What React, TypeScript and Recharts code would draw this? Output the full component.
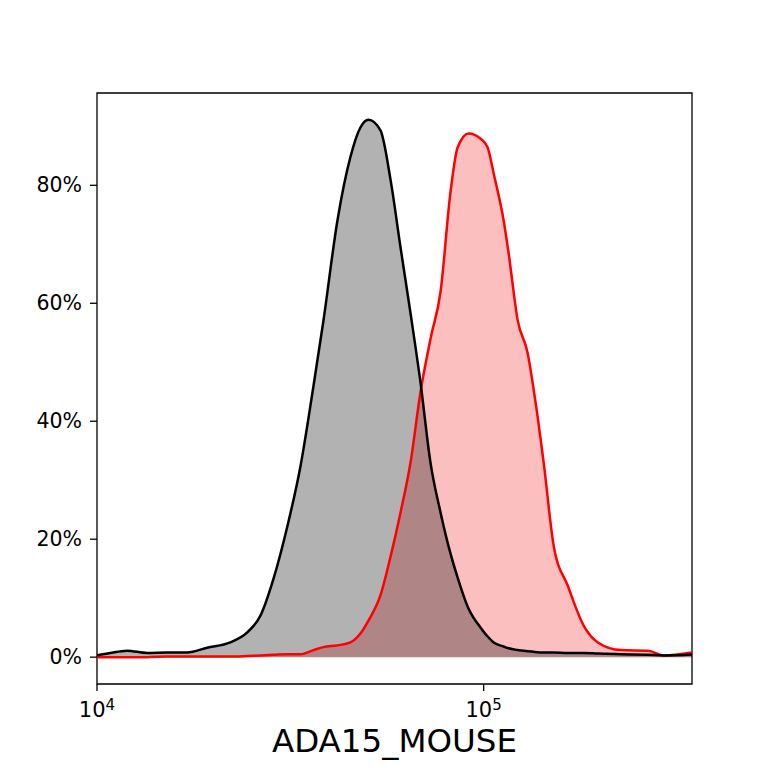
import React from "react";
import {
  ComposedChart,
  Area,
  Line,
  XAxis,
  YAxis,
  ReferenceArea,
  Label,
} from "recharts";

// Fluorescence intensity (x) and % of max (y)
const intensity = [
  10000, 10806, 11959, 13476, 15183, 17109, 19277, 22111, 24466, 26445,
  28577, 31075, 33576, 36282, 38507, 41855, 45228, 48005, 50357, 54096,
  57418, 60950, 64698, 68677, 72897, 77381, 82139, 85641, 91445, 98227,
  102410, 106150, 112680, 116090, 122490, 130020, 134760, 143030, 151830,
  165060, 181570, 197380, 226390, 266020, 292620, 345840,
];

// isotype control (black / grey)
const controlPct = [
  0.3, 0.7, 1.1, 0.7, 0.8, 0.8, 1.6, 2.5, 4.2, 7.0,
  13.2, 22.2, 32.3, 45.9, 57, 74, 84.8, 89.8, 91.1, 89.3,
  81, 69.5, 58.3, 46.5, 32.9, 24.5, 17.5, 13.5, 8.2, 5,
  3.5, 2.5, 1.8, 1.5, 1.2, 1.0, 0.9, 0.8, 0.8,
  0.7, 0.7, 0.6, 0.5, 0.4, 0.3, 0.45,
];

// ADA15 stained sample (red)
const samplePct = [
  0, 0, 0, 0, 0.1, 0.1, 0.1, 0.1, 0.2, 0.3,
  0.4, 0.5, 0.5, 1.2, 1.7, 2.0, 2.5, 4.0, 6.2, 10.5,
  17, 24.5, 33, 45, 54, 62, 79, 86.4, 88.8, 87.9,
  86.4, 82, 74, 68.4, 57.1, 51.5, 45.3, 32.9, 18.8,
  12.1, 5.3, 2.5, 1.2, 1.1, 0.3, 0.8,
];

const xTicks = [10000, 100000];
const xTickExponents = ["4", "5"];
const yTicks = [0, 20, 40, 60, 80];
const xLabel = "ADA15_MOUSE";

const XMIN = 10000;
const XMAX = 345840;
const YMIN = -4.55;
const YMAX = 95.65;

const FONT = "DejaVu Sans, sans-serif";

const data = intensity.map((x, i) => ({
  x,
  control: controlPct[i],
  sample: samplePct[i],
}));

const XTick = (props: any) => {
  const { x, y, payload } = props;
  const idx = xTicks.indexOf(payload.value);
  const exp = idx >= 0 ? xTickExponents[idx] : "";
  return (
    <text
      x={x}
      y={y + 24}
      textAnchor="middle"
      fontFamily={FONT}
      fontSize={21}
      fill="#000"
    >
      <tspan>10</tspan>
      <tspan fontSize={15} dy={-7}>
        {exp}
      </tspan>
    </text>
  );
};

const YTick = (props: any) => {
  const { x, y, payload } = props;
  return (
    <text
      x={x - 6}
      y={y + 7}
      textAnchor="end"
      fontFamily={FONT}
      fontSize={20.5}
      fill="#000"
    >
      {`${payload.value}%`}
    </text>
  );
};

const XAxisLabel = (props: any) => {
  const vb = props.viewBox || {};
  return (
    <text
      x={vb.x + vb.width / 2}
      y={vb.y + 68}
      textAnchor="middle"
      fontFamily={FONT}
      fontSize={32.5}
      fill="#000"
    >
      {xLabel}
    </text>
  );
};

export default function App() {
  return (
    <div style={{ width: 752, height: 760, marginBottom: -8 }}>
      <ComposedChart
        width={752}
        height={760}
        data={data}
        margin={{ top: 85, right: 68, bottom: 8, left: 0 }}
        style={{ overflow: "visible" }}
      >
        <XAxis
          dataKey="x"
          type="number"
          scale="log"
          domain={[XMIN, XMAX]}
          allowDataOverflow
          ticks={xTicks}
          interval={0}
          tickSize={7}
          tickLine={{ stroke: "#000", strokeWidth: 1.3 }}
          axisLine={false}
          tick={<XTick />}
          height={76}
        >
          <Label content={<XAxisLabel />} />
        </XAxis>
        <YAxis
          type="number"
          domain={[YMIN, YMAX]}
          allowDataOverflow
          ticks={yTicks}
          interval={0}
          tickSize={7}
          tickLine={{ stroke: "#000", strokeWidth: 1.3 }}
          axisLine={false}
          tick={<YTick />}
          width={89}
        />
        <Area
          type="monotone"
          dataKey="sample"
          stroke="none"
          fill="#f50000"
          fillOpacity={0.25}
          baseValue={0}
          isAnimationActive={false}
          activeDot={false}
        />
        <Area
          type="monotone"
          dataKey="control"
          stroke="none"
          fill="#000000"
          fillOpacity={0.3}
          baseValue={0}
          isAnimationActive={false}
          activeDot={false}
        />
        <Line
          type="monotone"
          dataKey="sample"
          stroke="#ff0000"
          strokeWidth={2.5}
          dot={false}
          activeDot={false}
          isAnimationActive={false}
        />
        <Line
          type="monotone"
          dataKey="control"
          stroke="#000000"
          strokeWidth={2.5}
          dot={false}
          activeDot={false}
          isAnimationActive={false}
        />
        <ReferenceArea
          x1={XMIN}
          x2={XMAX}
          y1={YMIN}
          y2={YMAX}
          fill="none"
          fillOpacity={0}
          stroke="#000"
          strokeWidth={1.3}
          ifOverflow="visible"
        />
      </ComposedChart>
    </div>
  );
}
